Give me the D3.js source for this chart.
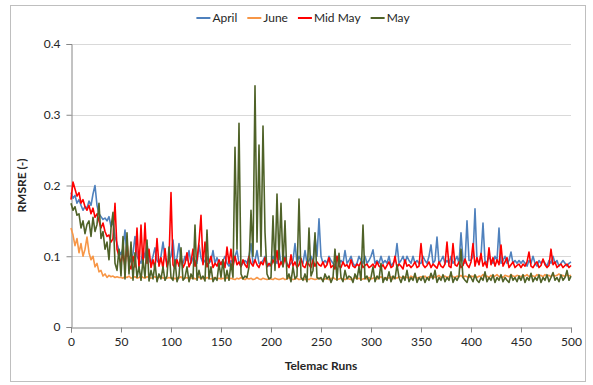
<!DOCTYPE html>
<html><head><meta charset="utf-8">
<script src="https://cdnjs.cloudflare.com/ajax/libs/d3/7.8.5/d3.min.js"></script>
<style>
body{margin:0;background:#fff;}
svg text{font-family:Lato,"Open Sans",sans-serif;fill:#262626;}
</style></head>
<body><svg id="chart" width="593" height="385"></svg>
<script>
// Runs sampled every 2 (0..500)
const runStep = 2;
const seriesNames = ["April", "June", "Mid May", "May"];
const seriesColors = ["#4F81BD", "#F79646", "#FF0000", "#4F6228"];
const yTicks = [0, 0.1, 0.2, 0.3, 0.4];
const xTicks = [0, 50, 100, 150, 200, 250, 300, 350, 400, 450, 500];

const april = [
0.190,0.182,0.186,0.175,0.180,0.172,0.165,0.170,0.168,0.178,0.172,0.188,0.200,0.172,0.160,0.156,0.152,0.154,0.150,0.156,0.142,0.150,0.128,0.118,0.108,
0.102,0.112,0.137,0.100,0.100,0.092,0.104,0.128,0.100,0.094,0.090,0.110,0.098,0.118,0.094,0.090,0.100,0.112,0.094,0.090,0.100,0.120,0.098,0.090,0.094,
0.100,0.123,0.090,0.098,0.118,0.094,0.090,0.100,0.094,0.108,0.090,0.098,0.094,0.090,0.116,0.098,0.090,0.094,0.100,0.090,0.094,0.108,0.090,0.098,0.090,
0.090,0.094,0.100,0.090,0.086,0.094,0.090,0.100,0.108,0.090,0.086,0.090,0.094,0.090,0.100,0.118,0.090,0.094,0.108,0.090,0.090,0.094,0.100,0.090,0.086,
0.090,0.100,0.094,0.090,0.110,0.090,0.094,0.100,0.090,0.086,0.090,0.094,0.118,0.090,0.100,0.094,0.090,0.108,0.090,0.094,0.100,0.090,0.128,0.100,0.153,
0.100,0.090,0.094,0.090,0.100,0.094,0.090,0.086,0.100,0.090,0.094,0.090,0.108,0.090,0.094,0.100,0.090,0.086,0.090,0.100,0.094,0.090,0.100,0.090,0.094,
0.100,0.109,0.090,0.094,0.090,0.100,0.090,0.094,0.090,0.100,0.086,0.090,0.094,0.118,0.090,0.094,0.100,0.090,0.100,0.094,0.090,0.100,0.090,0.094,0.090,
0.090,0.100,0.094,0.090,0.100,0.116,0.090,0.094,0.127,0.090,0.094,0.100,0.090,0.094,0.090,0.100,0.090,0.094,0.100,0.090,0.133,0.094,0.090,0.150,0.094,
0.094,0.100,0.167,0.094,0.090,0.100,0.147,0.094,0.090,0.100,0.094,0.090,0.100,0.094,0.140,0.090,0.094,0.100,0.090,0.094,0.106,0.090,0.094,0.090,0.094,
0.090,0.094,0.090,0.086,0.094,0.090,0.100,0.090,0.086,0.094,0.090,0.094,0.090,0.086,0.094,0.090,0.100,0.090,0.094,0.086,0.090,0.094,0.090,0.086,0.090,0.092
];

const june = [
0.140,0.130,0.115,0.125,0.105,0.118,0.100,0.110,0.127,0.105,0.095,0.100,0.085,0.090,0.078,0.080,0.072,0.075,0.070,0.073,0.071,0.072,0.070,0.071,0.070,
0.070,0.069,0.071,0.070,0.072,0.069,0.070,0.071,0.069,0.070,0.072,0.070,0.069,0.071,0.070,0.069,0.070,0.071,0.069,0.070,0.071,0.069,0.070,0.069,0.070,
0.069,0.070,0.068,0.070,0.069,0.071,0.068,0.069,0.070,0.068,0.069,0.070,0.068,0.069,0.071,0.068,0.069,0.068,0.070,0.069,0.068,0.069,0.070,0.068,0.069,
0.068,0.069,0.068,0.070,0.068,0.069,0.068,0.067,0.069,0.068,0.070,0.068,0.067,0.069,0.068,0.069,0.067,0.068,0.070,0.068,0.067,0.069,0.068,0.067,0.068,
0.068,0.067,0.069,0.068,0.067,0.068,0.069,0.067,0.068,0.070,0.068,0.067,0.068,0.069,0.067,0.068,0.069,0.067,0.068,0.067,0.069,0.068,0.067,0.068,0.069,
0.068,0.067,0.068,0.069,0.067,0.068,0.070,0.068,0.067,0.068,0.069,0.068,0.067,0.069,0.068,0.067,0.068,0.070,0.068,0.069,0.067,0.068,0.069,0.068,0.070,
0.068,0.069,0.070,0.068,0.069,0.071,0.069,0.068,0.070,0.069,0.071,0.068,0.070,0.069,0.071,0.070,0.069,0.071,0.070,0.069,0.072,0.070,0.071,0.069,0.070,
0.071,0.070,0.072,0.069,0.071,0.070,0.072,0.070,0.071,0.073,0.070,0.071,0.072,0.070,0.071,0.073,0.071,0.070,0.072,0.071,0.073,0.070,0.072,0.071,0.070,
0.072,0.071,0.073,0.070,0.072,0.071,0.074,0.071,0.072,0.070,0.073,0.071,0.072,0.074,0.071,0.072,0.070,0.073,0.072,0.071,0.074,0.072,0.071,0.073,0.072,
0.071,0.073,0.072,0.074,0.071,0.073,0.072,0.071,0.074,0.072,0.073,0.071,0.074,0.072,0.073,0.071,0.074,0.072,0.073,0.075,0.072,0.073,0.071,0.074,0.072,0.073
];

const midMay = [
0.180,0.205,0.195,0.185,0.190,0.175,0.180,0.170,0.165,0.172,0.160,0.168,0.155,0.160,0.150,0.140,0.147,0.135,0.128,0.130,0.120,0.125,0.175,0.110,0.100,
0.090,0.105,0.085,0.120,0.088,0.082,0.100,0.085,0.140,0.083,0.144,0.086,0.147,0.090,0.110,0.084,0.095,0.082,0.125,0.086,0.098,0.083,0.111,0.085,0.095,
0.190,0.088,0.083,0.095,0.086,0.100,0.084,0.090,0.105,0.085,0.092,0.110,0.086,0.095,0.120,0.158,0.088,0.120,0.085,0.092,0.100,0.084,0.090,0.086,0.095,
0.088,0.095,0.084,0.113,0.090,0.110,0.085,0.100,0.088,0.092,0.085,0.095,0.088,0.084,0.100,0.090,0.086,0.095,0.088,0.084,0.092,0.088,0.098,0.085,0.090,
0.086,0.095,0.088,0.108,0.084,0.092,0.086,0.098,0.088,0.084,0.102,0.086,0.092,0.084,0.088,0.097,0.086,0.084,0.092,0.088,0.084,0.095,0.086,0.092,0.088,
0.086,0.092,0.084,0.088,0.098,0.084,0.087,0.082,0.100,0.086,0.084,0.092,0.086,0.088,0.083,0.095,0.086,0.084,0.089,0.086,0.092,0.084,0.087,0.089,0.084,
0.086,0.089,0.084,0.092,0.086,0.084,0.088,0.082,0.087,0.092,0.084,0.086,0.100,0.084,0.089,0.086,0.082,0.095,0.086,0.088,0.084,0.087,0.092,0.084,0.086,
0.118,0.088,0.084,0.087,0.092,0.084,0.089,0.086,0.083,0.092,0.086,0.084,0.089,0.120,0.086,0.084,0.118,0.088,0.086,0.092,0.084,0.087,0.096,0.088,0.084,
0.092,0.118,0.086,0.098,0.088,0.104,0.086,0.092,0.084,0.112,0.088,0.098,0.086,0.095,0.088,0.116,0.086,0.092,0.098,0.084,0.088,0.092,0.084,0.087,0.089,
0.084,0.089,0.086,0.092,0.106,0.086,0.084,0.089,0.092,0.084,0.087,0.096,0.088,0.084,0.087,0.110,0.088,0.092,0.084,0.087,0.089,0.084,0.087,0.089,0.084,0.087
];

const may = [
0.175,0.165,0.170,0.158,0.160,0.140,0.150,0.132,0.145,0.150,0.128,0.155,0.135,0.145,0.175,0.125,0.135,0.110,0.120,0.095,0.140,0.162,0.090,0.080,0.110,
0.072,0.128,0.068,0.133,0.075,0.120,0.066,0.105,0.070,0.085,0.066,0.095,0.070,0.123,0.065,0.080,0.068,0.090,0.064,0.075,0.068,0.085,0.066,0.072,0.113,
0.070,0.066,0.095,0.064,0.072,0.112,0.066,0.070,0.085,0.064,0.075,0.068,0.144,0.066,0.080,0.068,0.072,0.065,0.137,0.068,0.085,0.064,0.070,0.066,0.090,
0.070,0.095,0.065,0.080,0.066,0.090,0.070,0.254,0.110,0.288,0.075,0.068,0.072,0.070,0.085,0.165,0.100,0.341,0.120,0.257,0.100,0.284,0.134,0.075,0.068,
0.070,0.157,0.080,0.188,0.095,0.175,0.085,0.150,0.068,0.075,0.064,0.085,0.068,0.072,0.181,0.070,0.066,0.075,0.064,0.140,0.072,0.080,0.133,0.070,0.068,
0.070,0.064,0.075,0.068,0.072,0.063,0.070,0.110,0.066,0.104,0.070,0.064,0.080,0.068,0.072,0.070,0.063,0.075,0.068,0.085,0.066,0.144,0.068,0.072,0.064,
0.070,0.085,0.064,0.072,0.068,0.090,0.063,0.070,0.066,0.078,0.064,0.072,0.068,0.088,0.070,0.063,0.072,0.066,0.080,0.064,0.070,0.066,0.076,0.063,0.070,
0.066,0.072,0.063,0.070,0.066,0.076,0.068,0.080,0.063,0.070,0.066,0.074,0.064,0.070,0.066,0.078,0.063,0.070,0.066,0.072,0.110,0.070,0.066,0.063,0.074,
0.070,0.064,0.074,0.066,0.063,0.070,0.066,0.078,0.064,0.070,0.066,0.074,0.063,0.070,0.066,0.074,0.064,0.070,0.066,0.063,0.074,0.066,0.070,0.064,0.072,
0.066,0.074,0.063,0.070,0.066,0.076,0.064,0.070,0.066,0.074,0.063,0.070,0.066,0.074,0.064,0.070,0.077,0.066,0.070,0.064,0.074,0.066,0.070,0.080,0.066,0.072
];

const seriesValues = [april, june, midMay, may];

const svg = d3.select("#chart");
const plot = {left: 71, right: 571, top: 44, bottom: 327};

// chart border
svg.append("rect").attr("x", 10.5).attr("y", 5.5).attr("width", 575).attr("height", 376)
  .attr("fill", "#fff").attr("stroke", "#bfbfbf").attr("stroke-width", 1);

const x = d3.scaleLinear().domain([0, 500]).range([plot.left, plot.right]);
const y = d3.scaleLinear().domain([0, 0.4]).range([plot.bottom, plot.top]);

// gridlines
svg.append("g").selectAll("line").data(yTicks.filter(d => d > 0)).join("line")
  .attr("x1", plot.left).attr("x2", plot.right)
  .attr("y1", d => Math.round(y(d)) + 0.5).attr("y2", d => Math.round(y(d)) + 0.5)
  .attr("stroke", "#d9d9d9").attr("stroke-width", 1);

// y axis
const yAxis = d3.axisLeft(y).tickValues(yTicks).tickFormat(d => d === 0 ? "0" : d3.format(".1f")(d)).tickSize(5).tickPadding(6);
const gy = svg.append("g").attr("transform", `translate(${plot.left + 0.5},0)`).call(yAxis);
gy.select(".domain").attr("stroke", "#868686");
gy.selectAll(".tick line").attr("stroke", "#868686");
gy.selectAll("text").style("font-size", "12px").attr("fill", "#262626");

// x axis
const xAxis = d3.axisBottom(x).tickValues(xTicks).tickSize(5).tickPadding(5);
const gx = svg.append("g").attr("transform", `translate(0,${plot.bottom + 0.5})`).call(xAxis);
gx.select(".domain").attr("stroke", "#868686");
gx.selectAll(".tick line").attr("stroke", "#868686");
gx.selectAll("text").style("font-size", "12px").attr("fill", "#262626");

// lines
const line = d3.line().x((d, i) => x(i * runStep)).y(d => y(d));
const gLines = svg.append("g");
seriesValues.forEach((vals, k) => {
  gLines.append("path").datum(vals)
    .attr("d", line).attr("fill", "none")
    .attr("stroke", seriesColors[k]).attr("stroke-width", 1.6)
    .attr("stroke-linejoin", "round");
});

// axis titles
svg.append("text").attr("x", (plot.left + plot.right) / 2).attr("y", 370)
  .attr("text-anchor", "middle").style("font-size", "12px").style("font-weight", "bold")
  .text("Telemac Runs");
svg.append("text").attr("transform", `translate(26,${(plot.top + plot.bottom) / 2}) rotate(-90)`)
  .attr("text-anchor", "middle").style("font-size", "12px").style("font-weight", "bold")
  .text("RMSRE (-)");

// legend
const lg = svg.append("g");
let cx = 0;
seriesNames.forEach((name, k) => {
  const g = lg.append("g");
  g.append("line").attr("x1", 0).attr("x2", 14).attr("y1", 0).attr("y2", 0)
    .attr("stroke", seriesColors[k]).attr("stroke-width", 2);
  const t = g.append("text").attr("x", 16).attr("y", 4).style("font-size", "12px").text(name);
  const w = 16 + t.node().getComputedTextLength();
  g.attr("transform", `translate(${cx},0)`);
  cx += w + 10;
});
const totalW = cx - 10;
lg.attr("transform", `translate(${303 - totalW / 2},18)`);
</script>
</body></html>
